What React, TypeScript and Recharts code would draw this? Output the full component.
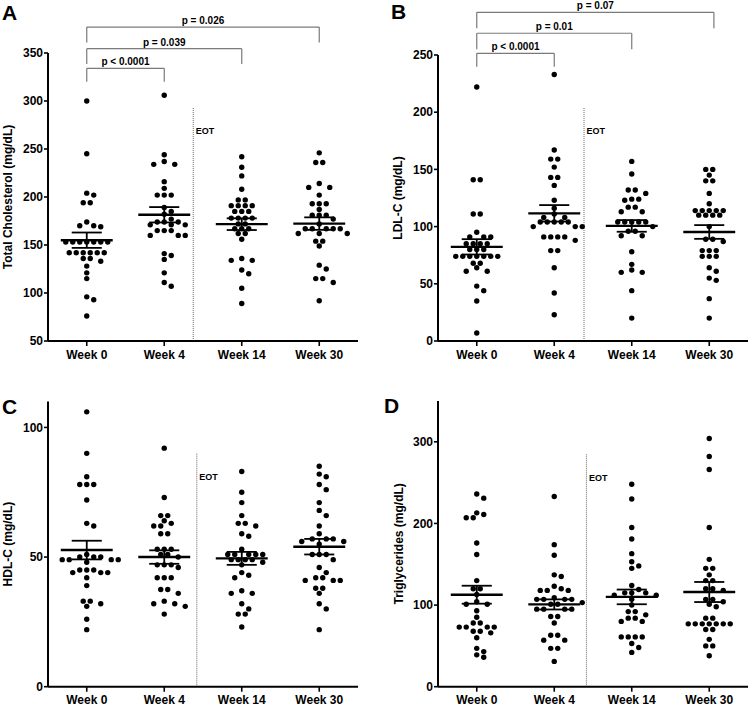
import React from 'react';
import { ScatterChart, Scatter, XAxis, YAxis, ReferenceLine } from 'recharts';

// ---------- data ----------
const weeks = ['Week 0', 'Week 4', 'Week 14', 'Week 30'];

// A: Total cholesterol (mg/dL)
const cholW0 = [300, 245, 204, 202, 194, 194, 174, 170, 170, 169, 153, 153, 153, 153, 153, 153, 153, 142, 142, 142, 142, 142, 142, 136, 136, 133, 128, 121, 115, 96, 93, 76];
const cholW4 = [306, 244, 237, 234, 234, 216, 209, 202, 202, 202, 189, 185, 182, 177, 174, 174, 174, 171, 171, 171, 165, 165, 165, 160, 160, 160, 141, 139, 135, 121, 111, 107];
const cholW14 = [242, 231, 222, 208, 197, 197, 191, 191, 191, 191, 185, 185, 185, 178, 178, 178, 178, 172, 172, 167, 167, 167, 162, 162, 156, 136, 134, 134, 124, 120, 105, 89];
const cholW30 = [246, 236, 236, 214, 210, 210, 202, 193, 193, 193, 187, 181, 181, 181, 177, 172, 167, 167, 167, 167, 167, 162, 162, 162, 154, 154, 149, 129, 125, 115, 115, 111, 92];
const cholMean = [155, 181.5, 171.7, 172.3];
const cholSem = [8, 8, 6.1, 6.5];
const cholP = ['p < 0.0001', 'p = 0.039', 'p = 0.026'];

// B: LDL-C (mg/dL)
const ldlW0 = [222, 141, 141, 111, 111, 95, 91, 91, 91, 85, 85, 85, 85, 80, 80, 80, 74, 74, 74, 74, 74, 74, 74, 68, 68, 64, 61, 61, 48, 44, 35, 7];
const ldlW4 = [233, 167, 159, 159, 152, 143, 143, 136, 123, 116, 111, 108, 108, 104, 104, 104, 104, 104, 100, 100, 100, 91, 91, 91, 91, 88, 79, 79, 64, 42, 23];
const ldlW14 = [157, 146, 132, 132, 129, 124, 124, 123, 117, 117, 113, 113, 104, 104, 104, 104, 104, 100, 96, 96, 92, 92, 78, 67, 62, 60, 60, 44, 20];
const ldlW30 = [150, 150, 145, 140, 140, 129, 120, 114, 114, 114, 114, 114, 110, 110, 110, 110, 100, 89, 89, 87, 79, 79, 79, 74, 74, 74, 64, 61, 55, 53, 37, 20];
const ldlMean = [82.3, 111.6, 100.6, 95.3];
const ldlSem = [6.7, 7.2, 5.1, 6];
const ldlP = ['p < 0.0001', 'p = 0.01', 'p = 0.07'];

// C: HDL-C (mg/dL)
const hdlW0 = [106, 90, 81, 78, 78, 78, 72, 63, 62, 51, 50, 50, 50, 49, 49, 49, 49, 48, 45, 45, 45, 44, 44, 44, 42, 39, 33, 33, 32, 31, 26, 22];
const hdlW4 = [92, 73, 66, 66, 64, 63, 62, 62, 59, 59, 53, 53, 53, 51, 51, 50, 47, 47, 47, 46, 42, 42, 42, 37.5, 37.5, 36, 33, 32, 32, 31, 28];
const hdlW14 = [83, 75, 71, 66, 63, 63, 62, 59, 58, 53, 51, 51, 51, 51, 51, 49, 49, 49, 49, 48, 47, 44, 43, 42, 37, 36, 36, 32, 30, 28, 28, 23];
const hdlW30 = [85, 82, 81, 78, 76, 71, 68, 66, 62, 59, 57, 57, 57, 56, 56, 55, 51, 51, 51, 49, 46, 44, 42, 42, 41, 41, 41, 38, 38, 36, 32, 30, 22];
const hdlMean = [52.7, 50, 49.5, 54];
const hdlSem = [3.6, 2.6, 2.5, 3];

// D: Triglycerides (mg/dL)
const tgW0 = [236, 231, 213, 211, 207, 207, 176, 162, 130, 120, 120, 113, 104, 101, 101, 93, 85, 78, 78, 73, 73, 73, 73, 68, 68, 66, 60, 47, 43, 39, 36];
const tgW4 = [233, 174, 161, 137, 135, 123, 120, 118, 118, 118, 109, 107, 107, 107, 107, 103, 101, 101, 95, 95, 95, 95, 86, 86, 78, 63, 63, 57, 57, 47, 47, 31];
const tgW14 = [248, 230, 195, 181, 163, 153, 148, 145, 124, 119, 115, 115, 115, 112, 112, 107, 100, 92, 92, 88, 84, 84, 80, 80, 61, 61, 61, 61, 53, 48, 42];
const tgW30 = [304, 282, 266, 195, 156, 145, 145, 137, 130, 130, 120, 120, 118, 107, 107, 104, 101, 98, 84, 84, 77, 77, 77, 77, 77, 77, 77, 70, 70, 58, 50, 50, 38];
const tgMean = [112.7, 100.8, 110, 116];
const tgSem = [11, 6.2, 9, 12.3];

// ---------- layout helpers ----------
const DOT_R = 2.7;
const DOT_GAP = 7;
const MIN_DIST = 5.5;
const MEAN_HALF = 0.335;
const SEM_HALF = 0.194;
const BRACKET = '#7a7a7a';

type Pt = { x: number; y: number };

function swarm(values: number[], cat: number, pyPerUnit: number, pxPerUnit: number): Pt[] {
  const sorted = [...values].sort((a, b) => b - a);
  const rows: number[][] = [];
  for (const v of sorted) {
    const last = rows[rows.length - 1];
    if (last && (last[0] - v) * pyPerUnit < 1.5) last.push(v);
    else rows.push([v]);
  }
  const placed: Pt[] = [];
  const out: Pt[] = [];
  for (const row of rows) {
    const n = row.length;
    const slots: number[] = [];
    for (let k = 0; k < 40; k++) {
      if (n % 2 === 1) {
        if (k === 0) slots.push(0);
        else slots.push((k % 2 === 1 ? 1 : -1) * Math.ceil(k / 2) * DOT_GAP);
      } else {
        const m = Math.floor(k / 2);
        slots.push((k % 2 === 0 ? 1 : -1) * (m + 0.5) * DOT_GAP);
      }
    }
    let si = 0;
    row.forEach((v) => {
      const py = v * pyPerUnit;
      while (si < slots.length) {
        const sx = slots[si++];
        if (placed.every((q) => Math.hypot(sx - q.x, py - q.y) >= MIN_DIST)) {
          out.push({ x: cat + sx / pxPerUnit, y: v });
          placed.push({ x: sx, y: py });
          return;
        }
      }
    });
  }
  return out;
}

const Dot = (p: any) => <circle cx={p.cx} cy={p.cy} r={DOT_R} fill="#000" />;

const eotLabel = (props: any) => {
  const vb = props.viewBox || {};
  return (
    <text x={vb.x + 2.5} y={vb.y + 26.5} fontSize={9} fontWeight="bold" fill="#000">
      EOT
    </text>
  );
};

type Panel = {
  left: number; top: number; width: number; height: number;
  margin: { top: number; right: number; bottom: number; left: number };
  yWidth: number; xHeight: number;
  domain: [number, number]; ticks: number[];
  yLabel: string; labelOffset: number;
  groups: number[][]; mean: number[]; sem: number[];
  brackets: { from: number; to: number; label: string; y: number; drop: number }[];
  eotX: number; eotTop: number;
};

const panels: Panel[] = [
  {
    left: 0, top: 0, width: 375, height: 370,
    margin: { top: 53, right: 17, bottom: 0, left: 0 }, yWidth: 48, xHeight: 29,
    domain: [50, 350], ticks: [50, 100, 150, 200, 250, 300, 350],
    yLabel: 'Total Cholesterol (mg/dL)', labelOffset: 7.5,
    groups: [cholW0, cholW4, cholW14, cholW30], mean: cholMean, sem: cholSem,
    brackets: [
      { from: 0, to: 1, label: cholP[0], y: 334, drop: 14 },
      { from: 0, to: 2, label: cholP[1], y: 354.5, drop: 16 },
      { from: 0, to: 3, label: cholP[2], y: 377, drop: 16 },
    ],
    eotX: 1.374, eotTop: 293,
  },
  {
    left: 375, top: 0, width: 375, height: 370,
    margin: { top: 55, right: 2, bottom: 0, left: 0 }, yWidth: 63, xHeight: 29,
    domain: [0, 250], ticks: [0, 50, 100, 150, 200, 250],
    yLabel: 'LDL-C (mg/dL)', labelOffset: 22.5,
    groups: [ldlW0, ldlW4, ldlW14, ldlW30], mean: ldlMean, sem: ldlSem,
    brackets: [
      { from: 0, to: 1, label: ldlP[0], y: 251.5, drop: 11.7 },
      { from: 0, to: 2, label: ldlP[1], y: 269, drop: 14 },
      { from: 0, to: 3.06, label: ldlP[2], y: 287.3, drop: 14 },
    ],
    eotX: 1.384, eotTop: 204,
  },
  {
    left: 0, top: 360, width: 375, height: 346,
    margin: { top: 41.5, right: 17, bottom: 0, left: 0 }, yWidth: 48, xHeight: 19.3,
    domain: [0, 110], ticks: [0, 50, 100],
    yLabel: 'HDL-C (mg/dL)', labelOffset: 7.5,
    groups: [hdlW0, hdlW4, hdlW14, hdlW30], mean: hdlMean, sem: hdlSem,
    brackets: [],
    eotX: 1.42, eotTop: 90.1,
  },
  {
    left: 375, top: 360, width: 375, height: 346,
    margin: { top: 41, right: 2, bottom: 0, left: 0 }, yWidth: 63, xHeight: 19.3,
    domain: [0, 350], ticks: [0, 100, 200, 300],
    yLabel: 'Triglycerides (mg/dL)', labelOffset: 24,
    groups: [tgW0, tgW4, tgW14, tgW30], mean: tgMean, sem: tgSem,
    brackets: [],
    eotX: 1.415, eotTop: 285,
  },
];

const axisStyle = { stroke: '#000', strokeWidth: 2 };
const tickLineStyle = { stroke: '#000', strokeWidth: 1.6 };
const tickText = { fill: '#000', fontSize: 12, fontWeight: 'bold' as const };

function PanelChart({ p }: { p: Panel }) {
  const plotW = p.width - p.margin.left - p.margin.right - p.yWidth;
  const plotH = p.height - p.margin.top - p.margin.bottom - p.xHeight;
  const pxPerUnit = plotW / 4;
  const pyPerUnit = plotH / (p.domain[1] - p.domain[0]);
  const pts: Pt[] = [];
  p.groups.forEach((g, i) => pts.push(...swarm(g, i, pyPerUnit, pxPerUnit)));
  const lo = p.domain[0];

  return (
    <div style={{ position: 'absolute', left: p.left, top: p.top, width: p.width, height: p.height }}>
      <ScatterChart width={p.width} height={p.height} margin={p.margin}>
        <XAxis
          type="number" dataKey="x" domain={[-0.5, 3.5]} ticks={[0, 1, 2, 3]} interval={0}
          tickFormatter={(v: number) => weeks[v] ?? ''} height={p.xHeight}
          axisLine={axisStyle} tickLine={tickLineStyle} tickSize={5} tickMargin={4}
          tick={tickText} allowDataOverflow
        />
        <YAxis
          type="number" dataKey="y" domain={p.domain} ticks={p.ticks} interval={0} width={p.yWidth}
          axisLine={axisStyle} tickLine={tickLineStyle} tickSize={4} tickMargin={1}
          tick={tickText} allowDataOverflow
          label={{
            value: p.yLabel, angle: -90, position: 'insideLeft', offset: p.labelOffset,
            style: { textAnchor: 'middle', fontWeight: 'bold', fontSize: 12, fill: '#000' },
          }}
        />
        <ReferenceLine
          segment={[{ x: p.eotX, y: lo }, { x: p.eotX, y: p.eotTop }]}
          stroke="#666" strokeWidth={1} strokeDasharray="1 1" ifOverflow="visible"
          label={eotLabel}
        />
        {p.brackets.map((b, i) => (
          <ReferenceLine
            key={`bh${i}`}
            segment={[{ x: b.from, y: b.y }, { x: b.to, y: b.y }]}
            stroke={BRACKET} strokeWidth={1.2} ifOverflow="visible"
            label={{ value: b.label, position: 'top', offset: 3, fill: '#000', fontSize: 10, fontWeight: 'bold' }}
          />
        ))}
        {p.brackets.map((b, i) => (
          <ReferenceLine
            key={`bl${i}`}
            segment={[{ x: b.from, y: b.y }, { x: b.from, y: b.y - b.drop }]}
            stroke={BRACKET} strokeWidth={1.2} ifOverflow="visible"
          />
        ))}
        {p.brackets.map((b, i) => (
          <ReferenceLine
            key={`br${i}`}
            segment={[{ x: b.to, y: b.y }, { x: b.to, y: b.y - b.drop }]}
            stroke={BRACKET} strokeWidth={1.2} ifOverflow="visible"
          />
        ))}
        <Scatter data={pts} shape={Dot} isAnimationActive={false} />
        {p.mean.map((m, i) => (
          <ReferenceLine
            key={`m${i}`}
            segment={[{ x: i - MEAN_HALF, y: m }, { x: i + MEAN_HALF, y: m }]}
            stroke="#000" strokeWidth={2.4} ifOverflow="visible"
          />
        ))}
        {p.mean.map((m, i) => (
          <ReferenceLine
            key={`su${i}`}
            segment={[{ x: i - SEM_HALF, y: m + p.sem[i] }, { x: i + SEM_HALF, y: m + p.sem[i] }]}
            stroke="#000" strokeWidth={1.8} ifOverflow="visible"
          />
        ))}
        {p.mean.map((m, i) => (
          <ReferenceLine
            key={`sd${i}`}
            segment={[{ x: i - SEM_HALF, y: m - p.sem[i] }, { x: i + SEM_HALF, y: m - p.sem[i] }]}
            stroke="#000" strokeWidth={1.8} ifOverflow="visible"
          />
        ))}
        {p.mean.map((m, i) => (
          <ReferenceLine
            key={`sv${i}`}
            segment={[{ x: i, y: m - p.sem[i] }, { x: i, y: m + p.sem[i] }]}
            stroke="#000" strokeWidth={1.8} ifOverflow="visible"
          />
        ))}
      </ScatterChart>
    </div>
  );
}

const letters = [
  { t: 'A', x: 2, y: 20 },
  { t: 'B', x: 391, y: 19 },
  { t: 'C', x: 2, y: 414 },
  { t: 'D', x: 384, y: 413 },
];

export default function App() {
  return (
    <div
      style={{
        position: 'absolute', left: 0, top: 0, width: 750, height: 706, background: '#fff',
        fontFamily: '"Liberation Sans", Arial, Helvetica, sans-serif', overflow: 'hidden',
      }}
    >
      {panels.map((p, i) => (
        <PanelChart key={i} p={p} />
      ))}
      <svg width={750} height={706} style={{ position: 'absolute', left: 0, top: 0, pointerEvents: 'none' }}>
        {letters.map((l) => (
          <text key={l.t} x={l.x} y={l.y} fontSize={21} fontWeight="bold" fill="#000">
            {l.t}
          </text>
        ))}
      </svg>
    </div>
  );
}
